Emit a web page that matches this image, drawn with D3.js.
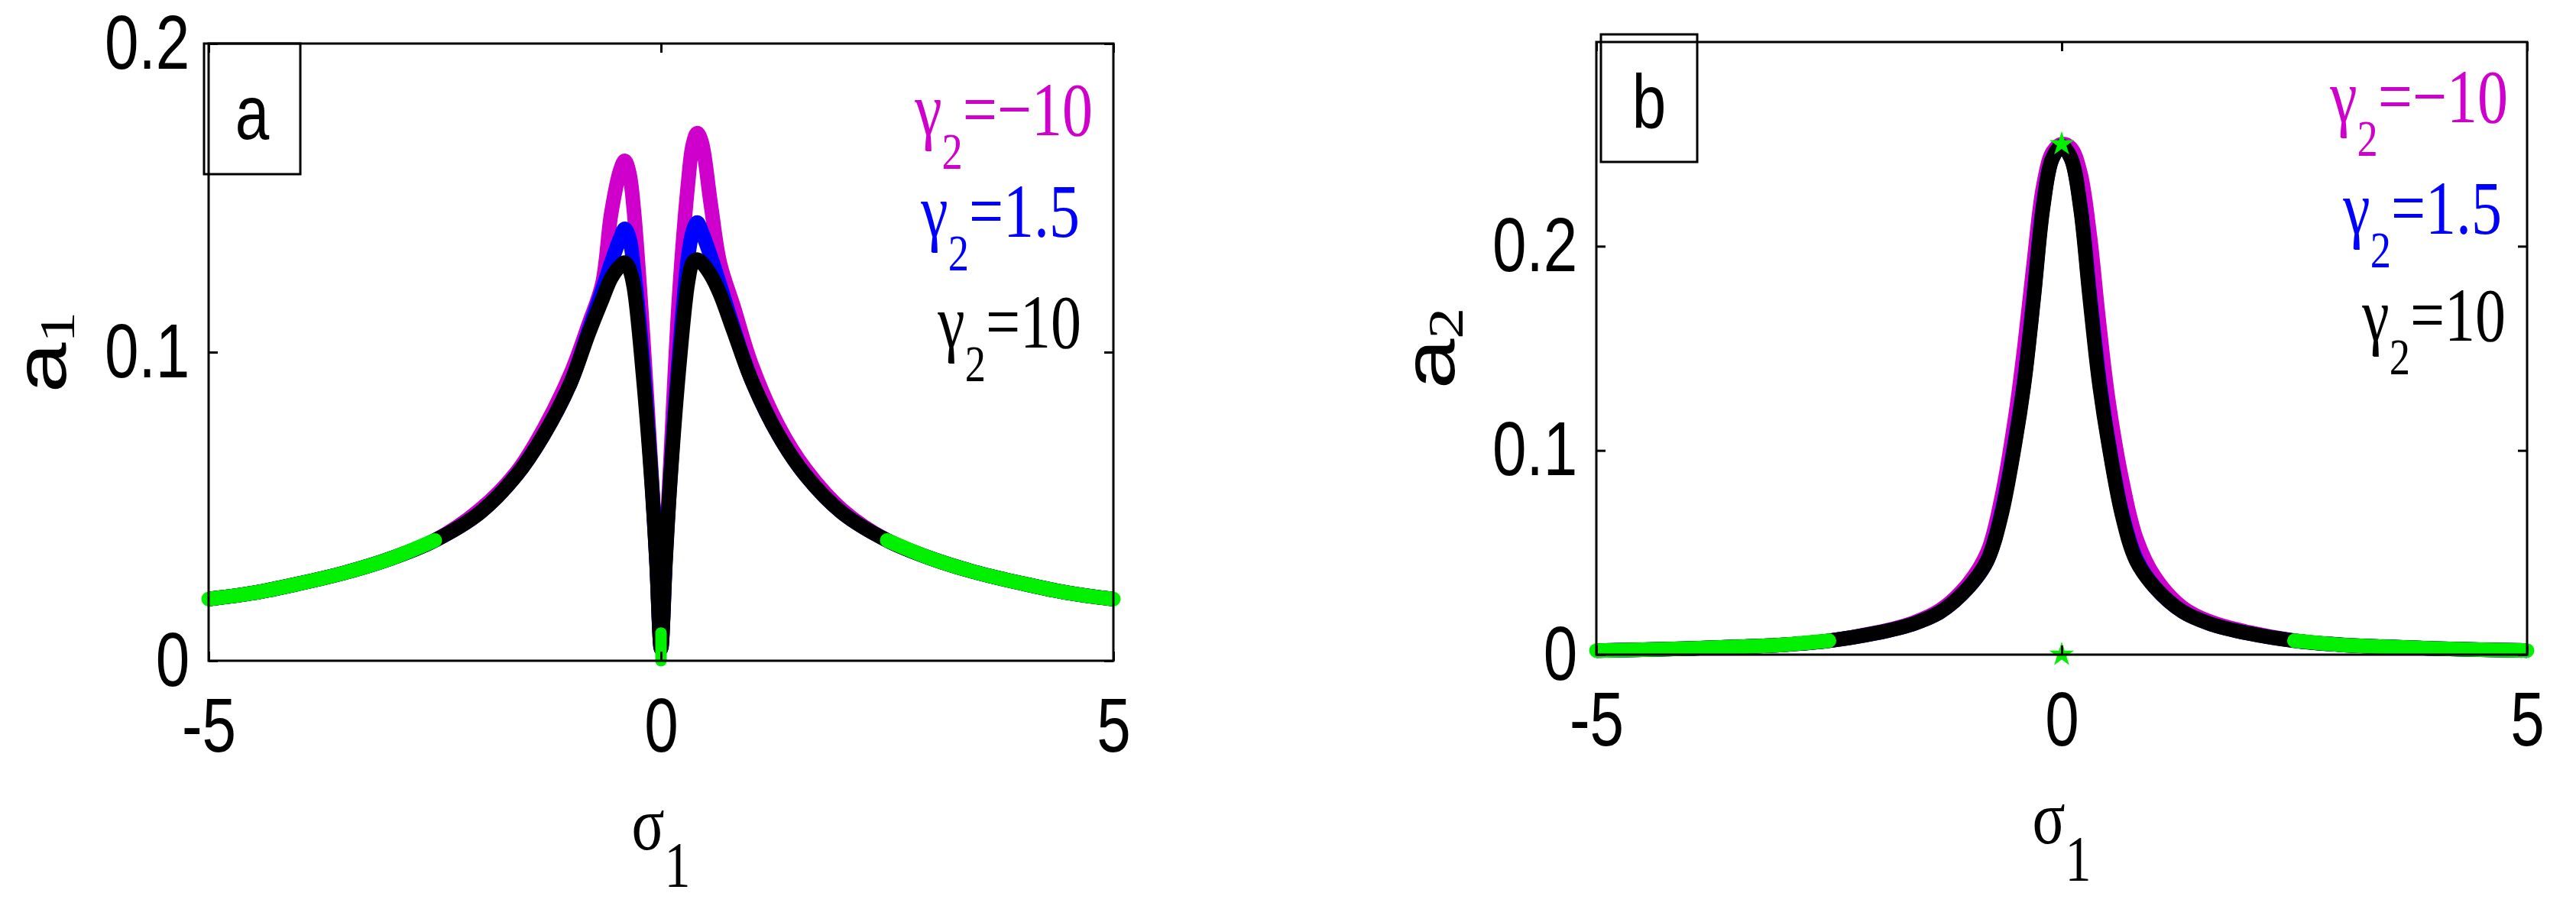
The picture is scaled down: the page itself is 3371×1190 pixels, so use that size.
<!DOCTYPE html>
<html>
<head>
<meta charset="utf-8">
<script src="https://cdn.jsdelivr.net/npm/d3@7"></script>
<style>
body { margin: 0; background: #fff; }
</style>
</head>
<body>
<div id="chart"></div>
<script>
// panel a : a1 against sigma1
var sigmaA = [-5, -4.5, -4, -3.5, -3, -2.5, -2, -1.6, -1.3, -1, -0.8, -0.65, -0.55, -0.45, -0.4, -0.35, -0.3, -0.2, -0.1, -0.05, 0,
              0.05, 0.1, 0.2, 0.3, 0.35, 0.4, 0.45, 0.55, 0.65, 0.8, 1, 1.3, 1.6, 2, 2.5, 3, 3.5, 4, 4.5, 5]
var a1GammaMinus10 = [0.020, 0.022, 0.025, 0.0285, 0.033, 0.039, 0.049, 0.061, 0.075, 0.093, 0.109, 0.122, 0.145, 0.159, 0.162, 0.158, 0.146, 0.106, 0.058, 0.033, 0.004,
                      0.034, 0.062, 0.118, 0.155, 0.167, 0.171, 0.168, 0.148, 0.129, 0.115, 0.096, 0.076, 0.062, 0.049, 0.039, 0.033, 0.0285, 0.025, 0.022, 0.020]
var a1Gamma15 = [0.020, 0.022, 0.025, 0.0285, 0.033, 0.039, 0.048, 0.060, 0.073, 0.090, 0.107, 0.120, 0.129, 0.137, 0.140, 0.137, 0.127, 0.097, 0.057, 0.032, 0.004,
                 0.033, 0.058, 0.099, 0.131, 0.139, 0.142, 0.139, 0.131, 0.122, 0.108, 0.091, 0.073, 0.060, 0.048, 0.039, 0.033, 0.0285, 0.025, 0.022, 0.020]
var a1Gamma10 = [0.020, 0.022, 0.025, 0.0285, 0.033, 0.039, 0.048, 0.060, 0.073, 0.090, 0.106, 0.117, 0.124, 0.128, 0.129, 0.127, 0.121, 0.093, 0.056, 0.032, 0.004,
                 0.032, 0.057, 0.095, 0.123, 0.129, 0.130, 0.129, 0.125, 0.119, 0.107, 0.091, 0.073, 0.060, 0.048, 0.039, 0.033, 0.0285, 0.025, 0.022, 0.020]
var stableRangesA = [[-5, -2.5], [2.5, 5]]
var stableZeroA = [[0, 0], [0, 0.009]]

// panel b : a2 against sigma1
var sigmaB = [-5, -4.5, -4, -3.5, -3, -2.5, -2, -1.6, -1.3, -1, -0.8, -0.65, -0.5, -0.4, -0.3, -0.2, -0.1, 0,
              0.1, 0.2, 0.3, 0.4, 0.5, 0.65, 0.8, 1, 1.3, 1.6, 2, 2.5, 3, 3.5, 4, 4.5, 5]
var a2GammaMinus10 = [0.002, 0.0024, 0.003, 0.0038, 0.0048, 0.0068, 0.0107, 0.0155, 0.022, 0.035, 0.050, 0.076, 0.116, 0.151, 0.192, 0.229, 0.246, 0.250,
                      0.248, 0.236, 0.206, 0.163, 0.125, 0.085, 0.057, 0.038, 0.023, 0.016, 0.011, 0.0069, 0.0049, 0.0038, 0.003, 0.0024, 0.002]
var a2Gamma15 = [0.002, 0.0024, 0.003, 0.0038, 0.0048, 0.0068, 0.0105, 0.015, 0.021, 0.033, 0.046, 0.069, 0.105, 0.135, 0.176, 0.220, 0.243, 0.249,
                 0.243, 0.220, 0.177, 0.136, 0.105, 0.069, 0.047, 0.033, 0.021, 0.015, 0.0105, 0.0068, 0.0048, 0.0038, 0.003, 0.0024, 0.002]
var a2Gamma10 = [0.002, 0.0024, 0.003, 0.0038, 0.0048, 0.0068, 0.0105, 0.015, 0.021, 0.033, 0.046, 0.068, 0.104, 0.134, 0.175, 0.219, 0.243, 0.249,
                 0.243, 0.219, 0.175, 0.134, 0.104, 0.068, 0.046, 0.033, 0.021, 0.015, 0.0105, 0.0068, 0.0048, 0.0038, 0.003, 0.0024, 0.002]
var stableRangesB = [[-5, -2.5], [2.5, 5]]
var stableStarsB = [[0, 0.25], [0, 0]]

var xTicks = [-5, 0, 5]
var yTicksA = [0, 0.1, 0.2]
var yTicksB = [0, 0.1, 0.2]
var gammaLabels = ["\u221210", "1.5", "10"]
var seriesColors = ["#d000cc", "#0000ff", "#000000"]
var stableColor = "#00f000"

var SANS = "'Liberation Sans', Arial, sans-serif"
var SERIF = "'Liberation Serif', 'Times New Roman', serif"
var SQUEEZE = "scale(0.8,1)"

var svg = d3.select("#chart").append("svg").attr("width", 3371).attr("height", 1190)
svg.append("rect").attr("width", 3371).attr("height", 1190).attr("fill", "#fff")

function drawPanel(opt) {
    var g = svg.append("g")
    var x = d3.scaleLinear().domain([-5, 5]).range([opt.left, opt.right])
    var y = d3.scaleLinear().domain(opt.yDomain).range([opt.bottom, opt.top])
    var line = d3.line()
        .x(function(d) { return x(d[0]) })
        .y(function(d) { return y(d[1]) })
        .curve(d3.curveCatmullRom.alpha(0.5))

    opt.series.forEach(function(vals, i) {
        var pts = opt.sigma.map(function(s, j) { return [s, vals[j]] })
        g.append("path").datum(pts)
            .attr("d", line)
            .attr("fill", "none")
            .attr("stroke", seriesColors[i])
            .attr("stroke-width", 19)
            .attr("stroke-linejoin", "round")
    })

    // stable branches drawn in green over the last curve
    var last = opt.series[opt.series.length - 1]
    opt.stable.forEach(function(r) {
        var pts = opt.sigma.map(function(s, j) { return [s, last[j]] })
            .filter(function(d) { return d[0] >= r[0] && d[0] <= r[1] })
        g.append("path").datum(pts)
            .attr("d", line)
            .attr("fill", "none")
            .attr("stroke", stableColor)
            .attr("stroke-width", 19)
            .attr("stroke-linecap", "round")
    })
    if (opt.zeroSeg) {
        g.append("path").datum(opt.zeroSeg)
            .attr("d", d3.line().x(function(d) { return x(d[0]) }).y(function(d) { return y(d[1]) }))
            .attr("stroke", stableColor).attr("stroke-width", 15).attr("stroke-linecap", "round")
    }
    if (opt.stars) {
        g.selectAll(".star").data(opt.stars).enter().append("path")
            .attr("class", "star")
            .attr("d", d3.symbol().type(d3.symbolStar).size(320))
            .attr("transform", function(d) { return "translate(" + x(d[0]) + "," + y(d[1]) + ")" })
            .attr("fill", stableColor)
    }

    function styleAxis(sel) {
        sel.select(".domain").remove()
        sel.selectAll("line").attr("stroke", "#000").attr("stroke-width", 3)
        sel.selectAll("text")
            .attr("font-family", SANS)
            .attr("font-size", 100)
            .attr("fill", "#000")
            .attr("transform", SQUEEZE)
    }
    function ticksOnly(sel) {
        sel.select(".domain").remove()
        sel.selectAll("text").remove()
        sel.selectAll("line").attr("stroke", "#000").attr("stroke-width", 3)
    }

    g.append("g").attr("transform", "translate(0," + opt.bottom + ")")
        .call(d3.axisBottom(x).tickValues(xTicks).tickSize(-12).tickSizeOuter(0).tickPadding(48).tickFormat(String))
        .call(styleAxis)
    g.append("g").attr("transform", "translate(0," + opt.top + ")")
        .call(d3.axisTop(x).tickValues(xTicks).tickSize(-12).tickSizeOuter(0))
        .call(ticksOnly)
    g.append("g").attr("transform", "translate(" + opt.left + ",0)")
        .call(d3.axisLeft(y).tickValues(opt.yTicks).tickSize(-12).tickSizeOuter(0).tickPadding(31).tickFormat(String))
        .call(styleAxis)
    g.append("g").attr("transform", "translate(" + opt.right + ",0)")
        .call(d3.axisRight(y).tickValues(opt.yTicks).tickSize(-12).tickSizeOuter(0))
        .call(ticksOnly)

    g.append("rect")
        .attr("x", opt.left).attr("y", opt.top)
        .attr("width", opt.right - opt.left).attr("height", opt.bottom - opt.top)
        .attr("fill", "none").attr("stroke", "#000").attr("stroke-width", 3)

    // panel letter box
    g.append("rect")
        .attr("x", opt.box[0]).attr("y", opt.box[1]).attr("width", opt.box[2]).attr("height", opt.box[3])
        .attr("fill", "none").attr("stroke", "#000").attr("stroke-width", 3)
    g.append("text")
        .attr("transform", "translate(" + (opt.box[0] + opt.box[2] / 2) + "," + opt.letterY + ") " + SQUEEZE)
        .attr("text-anchor", "middle")
        .attr("font-family", SANS).attr("font-size", 100)
        .text(opt.letter)

    // gamma_2 legend texts
    gammaLabels.forEach(function(lbl, i) {
        var t = g.append("text")
            .attr("transform", "translate(" + opt.legendX[i] + "," + opt.legendY[i] + ") " + SQUEEZE)
            .attr("text-anchor", "end")
            .attr("font-family", SERIF).attr("font-size", 100)
            .attr("fill", seriesColors[i])
        t.append("tspan").text("\u03b3")
        t.append("tspan").attr("font-size", 68).attr("dy", 44).text("2")
        t.append("tspan").attr("dy", -44).text("=" + lbl)
    })

    // x label sigma_1
    var xl = g.append("text")
        .attr("transform", "translate(" + ((opt.left + opt.right) / 2) + "," + (opt.bottom + 247) + ") " + SQUEEZE)
        .attr("text-anchor", "middle")
        .attr("font-family", SERIF).attr("font-size", 100)
    xl.append("tspan").text("\u03c3")
    xl.append("tspan").attr("font-size", 85).attr("dy", 49).text("1")

    // y label a_i
    var yl = g.append("text")
        .attr("transform", "translate(" + opt.ylabelX + "," + ((opt.top + opt.bottom) / 2) + ") " + SQUEEZE + " rotate(-90)")
        .attr("text-anchor", "middle")
    yl.append("tspan").attr("font-family", SANS).attr("font-size", 118).text("a")
    yl.append("tspan").attr("font-family", SERIF).attr("font-size", 82).attr("dy", 14).text(opt.ySub)
}

drawPanel({
    left: 273, right: 1457, top: 57, bottom: 865,
    yDomain: [0, 0.2], yTicks: yTicksA,
    sigma: sigmaA,
    series: [a1GammaMinus10, a1Gamma15, a1Gamma10],
    stable: stableRangesA,
    zeroSeg: stableZeroA,
    box: [267, 57, 126, 171], letter: "a", letterY: 182,
    legendX: [1430, 1413, 1415], legendY: [177, 310, 455],
    ylabelX: 86, ySub: "1"
})

drawPanel({
    left: 2089, right: 3307, top: 55, bottom: 857,
    yDomain: [0, 0.3], yTicks: yTicksB,
    sigma: sigmaB,
    series: [a2GammaMinus10, a2Gamma15, a2Gamma10],
    stable: stableRangesB,
    stars: stableStarsB,
    box: [2095, 45, 126, 167], letter: "b", letterY: 168,
    legendX: [3282, 3274, 3279], legendY: [160, 306, 446],
    ylabelX: 1903, ySub: "2"
})
</script>
</body>
</html>
